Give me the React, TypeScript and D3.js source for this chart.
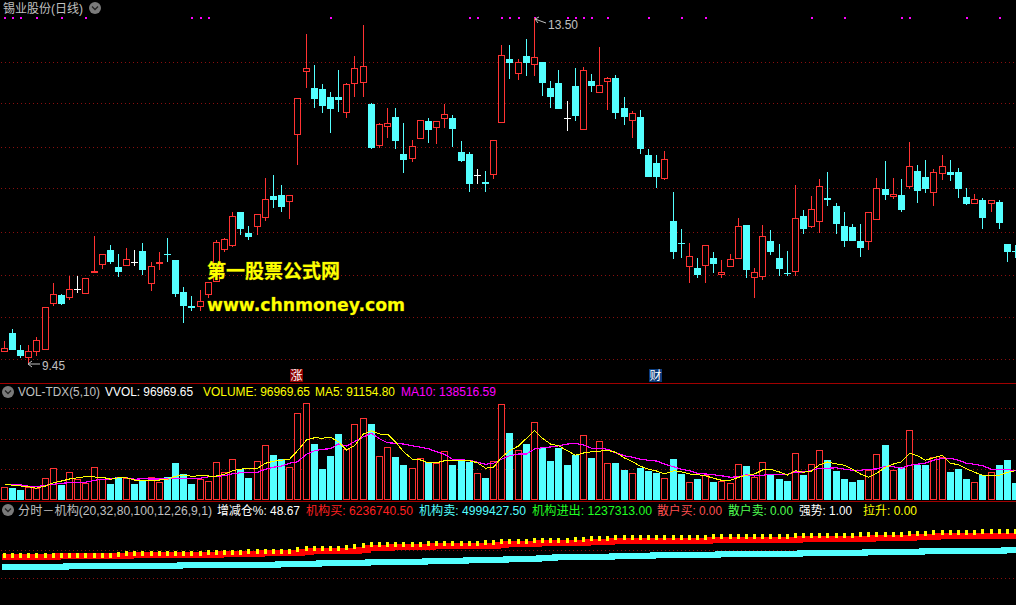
import * as d3 from "d3";

// daily prices, one entry per bar
const opens = [
  9.59, 9.80, 9.60, 9.52, 9.58, 9.61, 10.15, 10.24, 10.22, 10.31,
  10.27, 10.51, 10.61, 10.77, 10.57, 10.60, 10.63, 10.76, 10.38, 10.62,
  10.73, 10.65, 10.28, 10.12, 10.11, 10.25, 10.41, 10.79, 10.83, 11.22,
  10.97, 11.06, 11.16, 11.41, 11.42, 11.35, 12.14, 12.88, 12.68, 12.67,
  12.57, 12.57, 12.40, 12.73, 12.75, 12.49, 12.01, 12.23, 12.34, 11.90,
  11.85, 12.09, 12.29, 12.22, 12.32, 12.32, 11.92, 11.90, 11.65, 11.57,
  11.67, 12.28, 13.02, 12.85, 13.05, 12.96, 12.98, 12.68, 12.74, 12.33,
  12.70, 12.19, 12.76, 12.63, 12.76, 12.79, 12.44, 12.30, 12.34, 11.89,
  11.80, 11.62, 11.11, 10.86, 10.58, 10.56, 10.60, 10.68, 10.49, 10.59,
  10.68, 11.07, 10.46, 10.47, 10.88, 10.68, 10.50, 10.53, 11.17, 11.06,
  11.11, 11.38, 11.29, 11.05, 11.04, 10.88, 10.88, 11.14, 11.49, 11.41,
  11.42, 11.53, 11.70, 11.63, 11.45, 11.68, 11.69, 11.69, 11.40, 11.33,
  11.36, 11.32, 11.34, 10.84, 10.76,
];
const highs = [
  9.70, 9.84, 9.66, 9.65, 9.75, 10.10, 10.39, 10.25, 10.47, 10.47,
  10.44, 10.94, 10.73, 10.83, 10.73, 10.80, 10.77, 10.85, 10.63, 10.75,
  10.91, 10.65, 10.34, 10.23, 10.30, 10.40, 10.89, 10.91, 11.22, 11.22,
  11.05, 11.19, 11.62, 11.65, 11.54, 11.42, 12.56, 13.31, 12.95, 12.72,
  12.63, 12.89, 12.73, 13.05, 13.42, 12.50, 12.26, 12.44, 12.44, 12.27,
  12.07, 12.30, 12.32, 12.29, 12.49, 12.36, 12.05, 11.92, 11.72, 11.70,
  12.06, 13.18, 13.18, 13.02, 13.25, 13.50, 12.98, 12.76, 12.89, 12.52,
  12.91, 12.92, 12.84, 13.16, 12.81, 12.83, 12.57, 12.41, 12.42, 11.96,
  11.89, 11.94, 11.45, 11.02, 10.85, 10.68, 10.83, 10.75, 10.66, 10.72,
  11.15, 11.07, 10.56, 11.07, 11.01, 10.84, 10.76, 11.54, 11.24, 11.41,
  11.61, 11.69, 11.32, 11.22, 11.08, 11.08, 11.22, 11.62, 11.82, 11.62,
  11.61, 12.04, 11.77, 11.83, 11.72, 11.89, 11.83, 11.74, 11.50, 11.43,
  11.38, 11.36, 11.36, 10.84, 10.83,
];
const lows = [
  9.58, 9.60, 9.50, 9.45, 9.53, 9.60, 10.11, 10.13, 10.19, 10.27,
  10.27, 10.51, 10.55, 10.61, 10.46, 10.59, 10.58, 10.48, 10.29, 10.54,
  10.63, 10.22, 9.91, 10.06, 10.05, 10.21, 10.41, 10.75, 10.81, 10.95,
  10.89, 10.95, 11.11, 11.27, 11.22, 11.14, 11.77, 12.68, 12.44, 12.38,
  12.15, 12.39, 12.32, 12.57, 12.57, 11.96, 11.97, 12.09, 11.96, 11.68,
  11.81, 12.08, 12.03, 12.02, 12.21, 11.98, 11.81, 11.45, 11.55, 11.45,
  11.61, 12.28, 12.78, 12.77, 12.82, 12.82, 12.58, 12.44, 12.43, 12.17,
  12.29, 12.19, 12.63, 12.63, 12.42, 12.31, 12.24, 12.09, 11.90, 11.63,
  11.50, 11.60, 10.67, 10.68, 10.38, 10.44, 10.38, 10.50, 10.44, 10.59,
  10.68, 10.44, 10.21, 10.42, 10.71, 10.47, 10.47, 10.47, 10.96, 11.03,
  10.97, 11.29, 10.96, 10.81, 10.88, 10.69, 10.77, 11.14, 11.36, 11.37,
  11.22, 11.49, 11.32, 11.44, 11.29, 11.60, 11.58, 11.38, 11.30, 11.31,
  11.02, 11.22, 11.02, 10.63, 10.68,
];
const closes = [
  9.62, 9.60, 9.53, 9.58, 9.72, 10.10, 10.26, 10.14, 10.31, 10.31,
  10.44, 10.53, 10.73, 10.63, 10.51, 10.67, 10.63, 10.54, 10.58, 10.63,
  10.71, 10.26, 10.12, 10.09, 10.17, 10.40, 10.87, 10.90, 11.17, 11.02,
  10.93, 11.19, 11.37, 11.36, 11.28, 11.42, 12.56, 12.91, 12.55, 12.47,
  12.43, 12.54, 12.72, 12.91, 12.93, 11.97, 12.25, 12.26, 12.05, 11.83,
  12.00, 12.30, 12.18, 12.29, 12.37, 12.20, 11.82, 11.55, 11.65, 11.55,
  12.06, 13.07, 12.97, 12.98, 12.97, 13.04, 12.74, 12.57, 12.43, 12.33,
  12.35, 12.89, 12.70, 12.71, 12.79, 12.38, 12.34, 12.38, 11.96, 11.63,
  11.63, 11.84, 10.75, 10.85, 10.70, 10.48, 10.83, 10.61, 10.51, 10.67,
  11.05, 10.54, 10.51, 10.94, 10.75, 10.55, 10.49, 11.15, 11.02, 11.25,
  11.52, 11.36, 11.08, 10.88, 10.88, 10.80, 11.22, 11.50, 11.42, 11.43,
  11.24, 11.76, 11.47, 11.49, 11.69, 11.76, 11.65, 11.49, 11.31, 11.37,
  11.15, 11.36, 11.09, 10.75, 10.75,
];

// volume and its two averages, in thousands
const volumes = [
  51, 48, 40, 51, 47, 87, 127, 60, 111, 83, 67, 131, 83, 64, 91, 87, 64, 80, 91, 71,
  91, 148, 103, 64, 85, 75, 151, 111, 163, 123, 88, 155, 219, 180, 164, 131, 347, 387, 224, 124,
  176, 264, 204, 303, 327, 304, 175, 211, 172, 140, 127, 167, 151, 147, 195, 140, 156, 153, 107, 88,
  155, 383, 268, 199, 224, 311, 208, 156, 208, 140, 180, 259, 168, 235, 147, 148, 120, 107, 128, 116,
  108, 88, 164, 104, 71, 84, 99, 72, 75, 67, 143, 136, 91, 151, 99, 84, 76, 187, 99, 143,
  199, 160, 116, 84, 72, 80, 119, 183, 220, 119, 131, 279, 140, 140, 171, 171, 112, 124, 84, 71,
  100, 111, 140, 160, 68,
];
const ma5 = [
  64, 59, 56, 53, 47, 56, 69, 76, 84, 89, 93, 92, 91, 83, 89, 89, 80, 80, 80, 80,
  83, 95, 100, 95, 97, 96, 96, 103, 117, 123, 127, 127, 147, 155, 159, 163, 197, 240, 249, 247,
  251, 233, 200, 217, 264, 277, 264, 263, 233, 193, 163, 160, 149, 149, 157, 157, 157, 157, 149, 127,
  131, 171, 197, 216, 247, 279, 247, 224, 217, 197, 179, 188, 193, 195, 199, 191, 168, 153, 135, 123,
  116, 105, 117, 113, 104, 101, 97, 87, 79, 79, 91, 99, 104, 120, 123, 112, 100, 117, 111, 116,
  141, 152, 144, 139, 123, 104, 91, 107, 131, 144, 153, 187, 177, 159, 169, 179, 147, 141, 125, 111,
  99, 97, 99, 111, 117,
];
const ma10 = [
  63, 63, 61, 55, 53, 59, 63, 67, 69, 69, 71, 79, 83, 84, 89, 89, 83, 85, 84, 84,
  84, 87, 87, 87, 87, 93, 95, 97, 105, 109, 109, 111, 123, 131, 136, 147, 153, 183, 197, 203,
  205, 224, 216, 233, 253, 267, 245, 229, 227, 224, 217, 211, 205, 193, 183, 163, 160, 159, 151, 143,
  147, 163, 177, 184, 184, 204, 209, 212, 217, 224, 227, 220, 207, 207, 203, 189, 177, 171, 163, 159,
  156, 144, 133, 123, 117, 107, 104, 101, 97, 91, 93, 101, 96, 99, 103, 103, 103, 112, 112, 119,
  127, 127, 129, 123, 119, 119, 123, 124, 135, 133, 127, 139, 143, 148, 159, 167, 167, 159, 147, 143,
  137, 123, 123, 123, 116,
];

// institution lines in the lower pane, in millions
const instBuy = [
  4.381, 4.381, 4.381, 4.381, 4.381, 4.381, 4.381, 4.469, 4.469, 4.469, 4.469, 4.469, 4.469, 4.469, 4.469, 4.469,
  4.558, 4.558, 4.558, 4.558, 4.558, 4.558, 4.558, 4.558, 4.558, 4.558, 4.558, 4.646, 4.646, 4.646, 4.646, 4.646,
  4.734, 4.734, 4.734, 4.734, 4.734, 4.823, 4.911, 4.911, 4.911, 4.911, 4.911, 4.911, 4.999, 5.176, 5.176, 5.176,
  5.265, 5.265, 5.265, 5.265, 5.265, 5.353, 5.353, 5.353, 5.353, 5.353, 5.353, 5.353, 5.353, 5.441, 5.530, 5.530,
  5.530, 5.530, 5.618, 5.618, 5.618, 5.618, 5.618, 5.618, 5.706, 5.706, 5.706, 5.795, 5.795, 5.795, 5.795, 5.795,
  5.795, 5.795, 5.795, 5.795, 5.795, 5.795, 5.795, 5.883, 5.883, 5.883, 5.883, 5.883, 5.883, 5.883, 5.883, 5.883,
  5.883, 5.883, 5.972, 5.972, 5.972, 5.972, 5.972, 5.972, 5.972, 5.972, 5.972, 6.060, 6.060, 6.060, 6.060, 6.060,
  6.148, 6.148, 6.148, 6.237, 6.237, 6.237, 6.237, 6.237, 6.237, 6.237, 6.237, 6.237, 6.237,
];
const instSell = [
  3.497, 3.497, 3.497, 3.497, 3.497, 3.497, 3.497, 3.497, 3.586, 3.586, 3.586, 3.586, 3.586, 3.586, 3.586, 3.586,
  3.586, 3.586, 3.586, 3.586, 3.586, 3.586, 3.674, 3.674, 3.674, 3.674, 3.674, 3.674, 3.674, 3.674, 3.674, 3.674,
  3.674, 3.674, 3.762, 3.762, 3.762, 3.762, 3.762, 3.851, 3.851, 3.851, 3.851, 3.851, 3.851, 3.939, 3.939, 3.939,
  3.939, 3.939, 3.939, 3.939, 4.027, 4.027, 4.027, 4.027, 4.027, 4.116, 4.116, 4.116, 4.116, 4.116, 4.204, 4.204,
  4.204, 4.204, 4.293, 4.293, 4.381, 4.381, 4.381, 4.381, 4.381, 4.381, 4.381, 4.469, 4.469, 4.469, 4.469, 4.469,
  4.558, 4.558, 4.558, 4.558, 4.558, 4.558, 4.558, 4.558, 4.646, 4.646, 4.646, 4.646, 4.646, 4.646, 4.646, 4.646,
  4.646, 4.646, 4.734, 4.734, 4.734, 4.734, 4.734, 4.734, 4.734, 4.734, 4.823, 4.823, 4.823, 4.823, 4.823, 4.823,
  4.823, 4.911, 4.911, 4.911, 4.911, 4.911, 4.911, 4.911, 4.911, 4.911, 4.911, 4.999, 4.999,
];
const instMark = [
  4.602, 4.602, 4.602, 4.602, 4.602, 4.602, 4.602, 4.602, 4.602, 4.602, 4.602, 4.602, 4.602, 4.602, 4.690,
  4.778, 4.778, 4.778, 4.778, 4.778, 4.778, 4.778, 4.778, 4.778, 4.778,
  4.867, 4.867, 4.867, 4.867, 4.867,
  4.955, 4.955, 4.955, 4.955, 4.955, 4.955, 5.044,
  5.220, 5.220, 5.220, 5.220, 5.220, 5.309, 5.397, 5.485,
  5.574, 5.574, 5.574, 5.574, 5.574, 5.574, 5.574,
  5.662, 5.662, 5.662, 5.662, 5.662, 5.662, 5.662,
  5.750, 5.750, 5.839, 5.839, 5.839, 5.839,
  5.927, 5.927, 5.927, 5.927, 5.927, 6.016, 6.016, 6.104, 6.104, 6.104,
  6.192, 6.192, 6.192, 6.192, 6.192, 6.192, 6.192, 6.192, 6.192, 6.192, 6.192, 6.192,
  6.281, 6.281, 6.281, 6.281, 6.281, 6.281, 6.281, 6.281, 6.281, 6.281,
  6.369, 6.369, 6.369, 6.369, 6.369, 6.369, 6.369, 6.369,
  6.457, 6.457, 6.457, 6.457, 6.457, 6.457,
  6.546, 6.546, 6.546,
  6.634, 6.634, 6.634, 6.634, 6.634, 6.634,
  6.722, 6.722, 6.722, 6.722, 6.722,
];

// bars flagged by the magenta dots along the top
const signalBars = [
  0, 1, 2, 4, 7, 10, 23, 24, 25, 40, 57, 58, 61, 62, 63, 65, 69, 70, 71, 72, 74, 79, 83, 86, 99, 103, 110, 111, 118,
  122,
];

const priceGrid = [12.98, 12.49, 11.98, 11.49, 10.98, 10.47, 9.98, 9.48];
const volumeGrid = [122, 242, 366];
const instGrid = [4.955, 2.481];

const RED = "#ff3232";
const CYAN = "#54ffff";
const GRID = "#8a0f0f";
const SEPARATOR = "#a00000";
const GREY = "#c0c0c0";
const FONT = '"Liberation Sans", "Noto Sans CJK SC", sans-serif';

const bars = d3.range(opens.length);
const xBar = d3
  .scaleBand<number>()
  .domain(bars)
  .range([0.25, 0.25 + 125 * 8.155]);
const xCenter = (i: number) => Math.floor(xBar(i)! + xBar.bandwidth() / 2) + 0.5;

const yPrice = d3.scaleLinear().domain([9.45, 13.5]).range([362.5, 18]);
const yVolume = d3.scaleLinear().domain([0, 388]).range([500, 403]);
const yInst = d3.scaleLinear().domain([2.481, 6.237]).range([578.5, 536]);

const snap = (v: number) => Math.round(v) + 0.5;

const volumeLine = d3
  .line<number>()
  .x((_, i) => xCenter(i))
  .y((d) => yVolume(d));

const instLine = d3
  .line<number>()
  .x((_, i) => xCenter(i))
  .y((d) => Math.round(yInst(d)))
  .curve(d3.curveStep);

function Grid({ y }: { y: number }) {
  return <line x1={1} x2={1016} y1={snap(y - 0.5)} y2={snap(y - 0.5)} stroke={GRID} strokeDasharray="1 3" />;
}

function Candle({ i }: { i: number }) {
  const cx = xCenter(i);
  const open = opens[i];
  const close = closes[i];
  const color = close === open ? "#ffffff" : close > open ? RED : CYAN;
  const top = Math.round(yPrice(Math.max(open, close)));
  const bottom = Math.round(yPrice(Math.min(open, close)));
  const wick = (
    <line x1={cx} x2={cx} y1={Math.round(yPrice(highs[i]))} y2={Math.round(yPrice(lows[i]))} stroke={color} />
  );
  if (bottom - top < 1) {
    return (
      <g>
        {wick}
        <line x1={cx - 3.5} x2={cx + 3.5} y1={top + 0.5} y2={top + 0.5} stroke={color} />
      </g>
    );
  }
  if (close > open) {
    return (
      <g>
        {wick}
        <rect x={cx - 3} y={top + 0.5} width={6} height={bottom - top} fill="#000" stroke={color} />
      </g>
    );
  }
  return (
    <g>
      {wick}
      <rect x={cx - 3.5} y={top} width={7} height={bottom - top} fill={color} />
    </g>
  );
}

function VolumeBar({ i }: { i: number }) {
  const cx = xCenter(i);
  const top = Math.round(yVolume(volumes[i]));
  const prev = i > 0 ? closes[i - 1] : opens[i];
  const up = closes[i] > opens[i] || (closes[i] === opens[i] && closes[i] >= prev);
  if (up) {
    return <rect x={cx - 3} y={top + 0.5} width={6} height={500 - top - 1} fill="#000" stroke={RED} />;
  }
  return <rect x={cx - 3.5} y={top} width={7} height={500 - top} fill={CYAN} />;
}

function Chevron({ x, y }: { x: number; y: number }) {
  return (
    <g>
      <circle cx={x} cy={y} r={6} fill="#7a7a7a" />
      <path d={`M${x - 3} ${y - 1.5}L${x} ${y + 1.5}L${x + 3} ${y - 1.5}`} fill="none" stroke="#222" strokeWidth={1.3} />
    </g>
  );
}

function Label({ x, y, w, color, children }: { x: number; y: number; w: number; color: string; children: string }) {
  return (
    <text x={x} y={y} fill={color} fontSize={12} textLength={w} lengthAdjust="spacingAndGlyphs">
      {children}
    </text>
  );
}

export default function App() {
  return (
    <>
      <style>{`html,body{margin:0;background:#000;overflow:hidden}`}</style>
      <svg width={1016} height={605} viewBox="0 0 1016 605" style={{ display: "block", background: "#000", fontFamily: FONT }}>
        <g shapeRendering="crispEdges">
          {priceGrid.map((d) => (
            <Grid key={d} y={yPrice(d)} />
          ))}
          {volumeGrid.map((d) => (
            <Grid key={d} y={yVolume(d)} />
          ))}
          {instGrid.map((d) => (
            <Grid key={d} y={yInst(d)} />
          ))}

          <line x1={0} x2={1016} y1={383.5} y2={383.5} stroke={SEPARATOR} />
          <line x1={0} x2={1016} y1={501.5} y2={501.5} stroke={SEPARATOR} />

          {signalBars.map((i) => (
            <rect key={i} x={xCenter(i) - 1} y={17} width={2} height={2} fill="#ff00ff" />
          ))}

          {bars.map((i) => (
            <Candle key={i} i={i} />
          ))}

          {bars.map((i) => (
            <VolumeBar key={i} i={i} />
          ))}
          <path d={volumeLine(ma10)!} fill="none" stroke="#ff00ff" strokeWidth={1.2} />
          <path d={volumeLine(ma5)!} fill="none" stroke="#ffff00" />

          <path d={instLine(instSell)!} fill="none" stroke={CYAN} strokeWidth={6} strokeLinecap="square" />
          <path d={instLine(instBuy)!} fill="none" stroke="#ff0000" strokeWidth={6} strokeLinecap="square" />
          {instMark.map((d, i) => (
            <rect key={i} x={xCenter(i) - 1.5} y={Math.round(yInst(d)) - 2.5} width={3} height={5} fill="#ffff00" />
          ))}
        </g>

        {/* high and low markers */}
        <path d="M535 19L546 23M535 19L539 17M535 19L538 23" fill="none" stroke={GREY} />
        <Label x={548} y={29} w={30} color={GREY}>13.50</Label>
        <path d="M28 364L40 364M28 364L32 361M28 364L32 367" fill="none" stroke={GREY} />
        <Label x={42} y={370} w={23} color={GREY}>9.45</Label>

        <rect x={290} y={369} width={13} height={13} fill="#8b0000" />
        <text x={296.5} y={380} fill="#fff" fontSize={12} textAnchor="middle">涨</text>
        <rect x={649} y={369} width={13} height={13} fill="#0a3a7a" />
        <text x={655.5} y={380} fill="#fff" fontSize={12} textAnchor="middle">财</text>

        <Label x={3} y={13} w={80} color={GREY}>锡业股份(日线)</Label>
        <Chevron x={95} y={8} />

        <Chevron x={8} y={392} />
        <Label x={18} y={396} w={82} color={GREY}>VOL-TDX(5,10)</Label>
        <Label x={105} y={396} w={88} color="#ffffff">VVOL: 96969.65</Label>
        <Label x={203} y={396} w={107} color="#ffff00">VOLUME: 96969.65</Label>
        <Label x={315} y={396} w={80} color="#ffff00">MA5: 91154.80</Label>
        <Label x={401} y={396} w={95} color="#ff00ff">MA10: 138516.59</Label>

        <Chevron x={8} y={510} />
        <Label x={18} y={514.5} w={194} color={GREY}>分时－机构(20,32,80,100,12,26,9,1)</Label>
        <Label x={217} y={514.5} w={83} color="#ffffff">增减仓%: 48.67</Label>
        <Label x={306} y={514.5} w={107} color="#ff2020">机构买: 6236740.50</Label>
        <Label x={419} y={514.5} w={107} color={CYAN}>机构卖: 4999427.50</Label>
        <Label x={532} y={514.5} w={120} color="#22ff22">机构进出: 1237313.00</Label>
        <Label x={657} y={514.5} w={65} color="#ff5050">散户买: 0.00</Label>
        <Label x={728} y={514.5} w={65} color="#50ff50">散户卖: 0.00</Label>
        <Label x={799} y={514.5} w={53} color="#ffffff">强势: 1.00</Label>
        <Label x={863} y={514.5} w={54} color="#ffff00">拉升: 0.00</Label>

        {/* site watermark */}
        <text x={207} y={278} fill="#ffff00" stroke="#6b6b00" strokeWidth={0.6} paintOrder="stroke" fontSize={19} fontWeight={700} textLength={133} lengthAdjust="spacingAndGlyphs" style={{ fontFamily: '"Noto Sans CJK SC", sans-serif' }}>
          第一股票公式网
        </text>
        <text x={207} y={311} fill="#ffff00" stroke="#6b6b00" strokeWidth={0.6} paintOrder="stroke" fontSize={18} fontWeight={700} textLength={198} lengthAdjust="spacingAndGlyphs" style={{ fontFamily: '"DejaVu Sans", sans-serif' }}>
          www.chnmoney.com
        </text>
      </svg>
    </>
  );
}
